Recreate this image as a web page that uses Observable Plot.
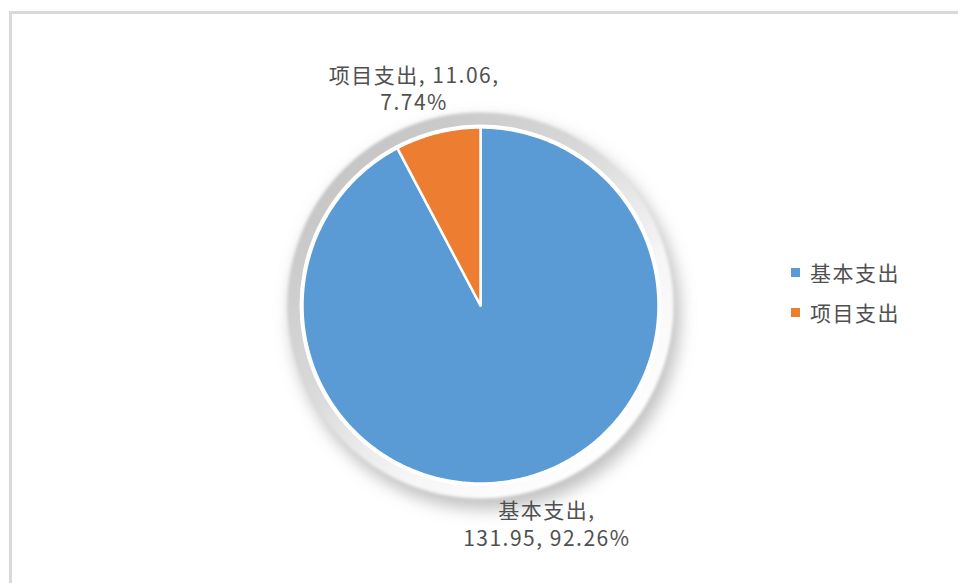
<!DOCTYPE html>
<html>
<head>
<meta charset="utf-8">
<script src="https://cdn.jsdelivr.net/npm/d3@7"></script>
<script src="https://cdn.jsdelivr.net/npm/@observablehq/plot@0.6"></script>
<style>
  body { margin: 0; background: #fff; font-family: "Noto Sans CJK SC", "Noto Sans", sans-serif; }
  #wrap { position: relative; width: 958px; height: 583px; overflow: hidden; }
  #frame { position: absolute; left: 9px; top: 11px; width: 960px; height: 590px;
           border-top: 3px solid #d9d9d9; border-left: 3px solid #d9d9d9; box-sizing: border-box; }
  #chart { position: absolute; left: 0; top: 0; }
  #legend { position: absolute; left: 791px; top: 256px; font-size: 21px; color: #505050; letter-spacing: 1.5px; }
  .item { display: flex; align-items: center; height: 32px; margin-bottom: 8px; }
  .sw { width: 9px; height: 9px; margin-right: 10px; }
</style>
</head>
<body>
<div id="wrap">
  <div id="frame"></div>
  <div id="chart"></div>
  <div id="legend"></div>
</div>
<script>
const names = ["基本支出", "项目支出"];
const values = [131.95, 11.06];
const percents = ["92.26%", "7.74%"];
const colors = ["#5B9BD5", "#ED7D31"];

const W = 958, H = 583, R = 178, cx = 480, cy = 305;

const rows = names.map((n, i) => ({name: n, value: values[i], pct: percents[i]}));
const arcs = d3.pie().sort(null).value(d => d.value).startAngle(0).endAngle(2 * Math.PI)(rows);

// polygon points for each slice (unit radius, y up)
const pts = [];
for (const a of arcs) {
  pts.push({name: a.data.name, x: 0, y: 0});
  const n = Math.max(2, Math.ceil((a.endAngle - a.startAngle) / 0.01));
  for (let k = 0; k <= n; k++) {
    const t = a.startAngle + (a.endAngle - a.startAngle) * k / n;
    pts.push({name: a.data.name, x: Math.sin(t), y: Math.cos(t)});
  }
  pts.push({name: a.data.name, x: 0, y: 0});
}

const labels = arcs.map((a, i) => {
  const m = (a.startAngle + a.endAngle) / 2;
  const text = i === 0
    ? `${a.data.name},\n${a.data.value.toFixed(2)}, ${a.data.pct}`
    : `${a.data.name}, ${a.data.value.toFixed(2)},\n${a.data.pct}`;
  return {x: Math.sin(m) * 1.55, y: Math.cos(m) * 1.26, text};
});

const center = [{x: 0, y: 0}];

const plot = Plot.plot({
  width: W, height: H,
  margin: 0,
  x: {domain: [-cx / R, (W - cx) / R], axis: null},
  y: {domain: [-(H - cy) / R, cy / R], axis: null},
  color: {domain: names, range: colors},
  style: {background: "transparent", overflow: "visible"},
  marks: [
    Plot.dot(center, {x: "x", y: "y", r: R + 17, fill: "#8f8f8f", fillOpacity: 0.55}),
    Plot.dot(center, {x: "x", y: "y", r: R + 15, fill: "url(#bevel)"}),
    Plot.dot(center, {x: "x", y: "y", r: R + 3, fill: "#ffffff"}),
    Plot.line(pts, {x: "x", y: "y", z: "name", fill: "name", stroke: "white", strokeWidth: 2.5, strokeLinejoin: "round", curve: "linear"}),
    Plot.text(labels, {x: "x", y: "y", text: "text", fill: "#505050", fontSize: 21, lineHeight: 1.3,
      fontFamily: "Noto Sans CJK SC", textAnchor: "middle"})
  ]
});
document.getElementById("chart").appendChild(plot);

const svg = d3.select(plot);
svg.selectAll("g[aria-label='text'] text").style("letter-spacing", "1.5px");
const defs = svg.insert("defs", ":first-child");
const g = defs.append("linearGradient").attr("id", "bevel")
  .attr("x1", "15%").attr("y1", "10%").attr("x2", "85%").attr("y2", "90%");
g.append("stop").attr("offset", "0%").attr("stop-color", "#c4c4c4");
g.append("stop").attr("offset", "40%").attr("stop-color", "#dadada");
g.append("stop").attr("offset", "70%").attr("stop-color", "#f6f6f6");
g.append("stop").attr("offset", "100%").attr("stop-color", "#ffffff");
const f = defs.append("filter").attr("id", "shadow").attr("x", "-30%").attr("y", "-30%").attr("width", "160%").attr("height", "160%");
f.append("feOffset").attr("in", "SourceGraphic").attr("dx", 5).attr("dy", 9).attr("result", "o");
f.append("feGaussianBlur").attr("in", "o").attr("stdDeviation", 8);
const bf = defs.append("filter").attr("id", "soft").attr("x", "-20%").attr("y", "-20%").attr("width", "140%").attr("height", "140%");
bf.append("feGaussianBlur").attr("in", "SourceGraphic").attr("stdDeviation", 1.5);

const dotGroups = svg.selectAll("g[aria-label='dot']").nodes();
d3.select(dotGroups[0]).attr("filter", "url(#shadow)");
d3.select(dotGroups[1]).attr("filter", "url(#soft)");

const legend = d3.select("#legend");
names.forEach((n, i) => {
  const it = legend.append("div").attr("class", "item");
  it.append("div").attr("class", "sw").style("background", colors[i]);
  it.append("span").text(n);
});
</script>
</body>
</html>
